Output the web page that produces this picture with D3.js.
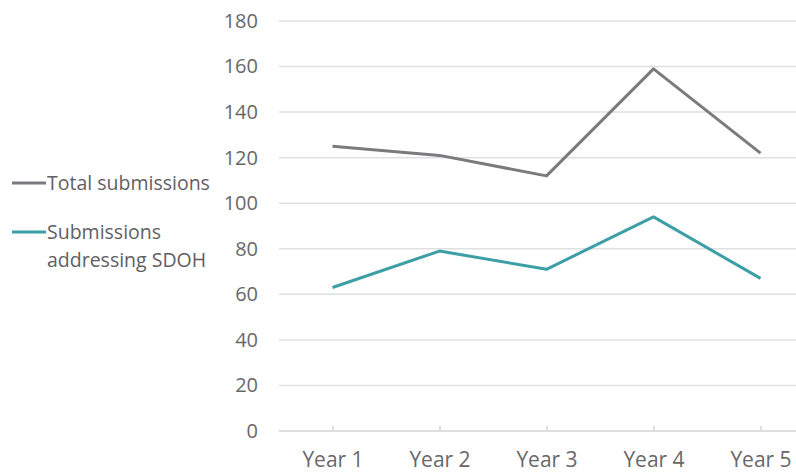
<!DOCTYPE html>
<html>
<head>
<meta charset="utf-8">
<script src="https://cdn.jsdelivr.net/npm/d3@7"></script>
<style>
  body { margin: 0; background: #fff; }
  svg { display: block; font-family: "Open Sans", "Noto Sans", sans-serif; }
</style>
</head>
<body>
<svg id="drawing_region"></svg>
<script>
const years = ['Year 1', 'Year 2', 'Year 3', 'Year 4', 'Year 5'];
const total_submissions = [125, 121, 112, 159, 122];
const sdoh_submissions = [63, 79, 71, 94, 67];
const y_ticks = [0, 20, 40, 60, 80, 100, 120, 140, 160, 180];

const series = [
    {name: ['Total submissions'], values: total_submissions, color: '#7b7b7e', legend_y: 183},
    {name: ['Submissions', 'addressing SDOH'], values: sdoh_submissions, color: '#3c9fa6', legend_y: 232}
];

const config = {
    width: 796,
    height: 473,
    margin: {top: 21, right: -18, bottom: 42, left: 279}
};

const svg = d3.select('#drawing_region')
    .attr('width', config.width)
    .attr('height', config.height);

const inner_width = config.width - config.margin.left - config.margin.right;
const inner_height = config.height - config.margin.top - config.margin.bottom;

const chart = svg.append('g')
    .attr('transform', `translate(${config.margin.left}, ${config.margin.top})`);

const xscale = d3.scalePoint()
    .domain(years)
    .range([0, inner_width])
    .padding(0.5);

const yscale = d3.scaleLinear()
    .domain([0, 180])
    .range([inner_height, 0]);

// gridlines
chart.append('g')
    .selectAll('line')
    .data(y_ticks.filter(d => d > 0))
    .join('line')
    .attr('x1', 0)
    .attr('x2', inner_width)
    .attr('y1', d => yscale(d))
    .attr('y2', d => yscale(d))
    .attr('stroke', '#e0e0e2')
    .attr('stroke-width', 1.5);

// y axis labels
const yaxis = d3.axisLeft(yscale)
    .tickValues(y_ticks)
    .tickSize(0)
    .tickPadding(21);

chart.append('g')
    .call(yaxis)
    .call(g => g.select('.domain').remove())
    .selectAll('text')
    .attr('font-size', 20)
    .attr('fill', '#68686a')
    .attr('font-family', '"Open Sans", sans-serif');

// x axis
const xaxis = d3.axisBottom(xscale)
    .tickSize(0)
    .tickPadding(21);

const xaxis_group = chart.append('g')
    .attr('transform', `translate(0, ${inner_height})`)
    .call(xaxis);

xaxis_group.select('.domain').remove();
xaxis_group.append('line')
    .attr('x1', 0)
    .attr('x2', inner_width)
    .attr('stroke', '#d4d4d6')
    .attr('stroke-width', 1.5);
xaxis_group.selectAll('.tick')
    .append('line')
    .attr('y1', 0)
    .attr('y2', -5)
    .attr('stroke', '#d4d4d6')
    .attr('stroke-width', 1.5);
xaxis_group.selectAll('text')
    .attr('font-size', 21)
    .attr('fill', '#68686a')
    .attr('font-family', '"Open Sans", sans-serif');

// lines
const line = d3.line()
    .x((d, i) => xscale(years[i]))
    .y(d => yscale(d));

chart.selectAll('.series')
    .data(series)
    .join('path')
    .attr('class', 'series')
    .attr('d', d => line(d.values))
    .attr('fill', 'none')
    .attr('stroke', d => d.color)
    .attr('stroke-width', 3)
    .attr('stroke-linejoin', 'round');

// legend
const legend = svg.append('g');
series.forEach(s => {
    legend.append('line')
        .attr('x1', 12)
        .attr('x2', 46)
        .attr('y1', s.legend_y)
        .attr('y2', s.legend_y)
        .attr('stroke', s.color)
        .attr('stroke-width', 3);
    const text = legend.append('text')
        .attr('x', 47)
        .attr('y', s.legend_y + 7)
        .attr('font-size', 19.5)
        .attr('fill', '#606062')
        .attr('font-family', '"Open Sans", sans-serif');
    s.name.forEach((t, i) => {
        text.append('tspan')
            .attr('x', 47)
            .attr('dy', i === 0 ? 0 : 28)
            .text(t);
    });
});
</script>
</body>
</html>
